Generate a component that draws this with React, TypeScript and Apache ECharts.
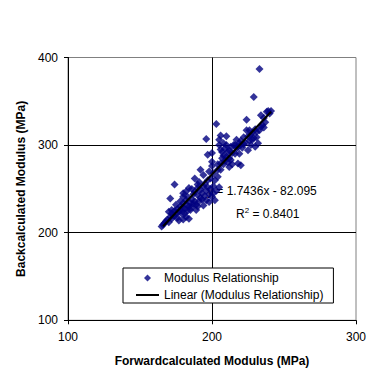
import React, { useEffect, useRef } from "react";
import * as echarts from "echarts";

const X_TICKS = [100, 200, 300];
const Y_TICKS = [100, 200, 300, 400];
const SERIES_NAME = "Modulus Relationship";
const TREND_NAME = "Linear (Modulus Relationship)";
const EQUATION = "y = 1.7436x - 82.095";
const R2_TEXT = "R";

// Forward-calculated (x) vs back-calculated (y) modulus, MPa
const POINTS: [number, number][] = [
  [165, 207], [166, 209], [167, 211], [168, 213], [169, 215], [170, 212], [171, 218], [172, 216],
  [172, 222], [173, 220], [174, 219], [174, 225], [175, 222], [176, 217], [176, 227], [177, 214],
  [177, 224], [178, 226], [178, 230], [179, 222], [180, 215], [180, 229], [180, 234], [181, 222],
  [181, 227], [182, 218], [182, 237], [183, 231], [183, 225], [184, 216], [184, 230], [185, 234],
  [185, 226], [171, 239], [172, 226], [170, 224], [175, 232], [178, 236], [174, 255], [180, 241],
  [180, 245], [183, 241], [184, 251], [182, 247],
  [186, 238], [186, 229], [187, 244], [188, 247], [188, 236], [189, 226], [189, 232], [190, 243],
  [190, 230], [190, 251], [191, 236], [191, 258], [192, 240], [192, 249], [192, 272], [193, 245],
  [193, 238], [194, 266], [194, 253], [195, 256], [195, 242], [196, 237], [196, 248], [197, 260],
  [197, 252], [198, 235], [198, 244], [199, 250], [199, 262], [188, 262], [190, 255], [194, 231],
  [186, 250], [187, 233],
  [200, 241], [200, 276], [200, 281], [200, 291], [201, 253], [201, 268], [202, 237], [202, 260],
  [203, 248], [203, 324], [204, 264], [204, 272], [205, 252], [205, 300], [205, 306], [206, 272],
  [206, 279], [206, 311], [207, 285], [207, 292], [208, 278], [208, 288], [209, 282], [209, 296],
  [210, 287], [210, 310], [210, 300], [211, 292], [211, 280], [212, 294], [212, 285], [213, 283],
  [213, 298], [214, 291], [214, 278], [215, 300], [196, 307], [197, 289], [198, 270], [201, 245],
  [204, 278], [206, 295], [208, 302], [212, 275],
  [216, 300], [216, 290], [217, 306], [217, 296], [218, 279], [218, 298], [219, 302], [219, 290],
  [220, 277], [220, 300], [220, 305], [221, 297], [222, 309], [222, 301], [223, 303], [224, 317],
  [224, 329], [225, 294], [225, 310], [226, 317], [226, 305], [227, 312], [228, 306], [228, 314],
  [229, 308], [229, 355], [230, 318], [231, 315], [231, 309], [232, 302], [233, 317], [233, 387],
  [234, 334], [234, 321], [235, 323], [236, 320], [236, 331], [237, 326], [238, 338], [239, 339],
  [240, 336], [241, 339], [230, 298], [227, 300],
];

// Trendline end points (as drawn by the fit over the data range)
const TREND: [number, number][] = [
  [166, 207.3],
  [241, 338.1],
];

const FONT = "'Liberation Sans', Arial, sans-serif";

export default function App() {
  const ref = useRef<HTMLDivElement>(null);
  useEffect(() => {
    if (!ref.current) return;
    const chart = echarts.init(ref.current, undefined, { renderer: "svg" });
    chart.setOption({
      animation: false,
      backgroundColor: "#ffffff",
      textStyle: { fontFamily: FONT },
      grid: {
        left: 68,
        right: 35,
        top: 57.5,
        bottom: 62.7,
        show: true,
        borderColor: "#808080",
        borderWidth: 1,
        backgroundColor: "transparent",
      },
      xAxis: {
        type: "value",
        min: X_TICKS[0],
        max: X_TICKS[X_TICKS.length - 1],
        interval: 100,
        name: "Forwardcalculated Modulus (MPa)",
        nameLocation: "middle",
        nameGap: 35,
        nameTextStyle: { fontFamily: FONT, fontSize: 12, fontWeight: "bold", color: "#000" },
        axisLine: { show: true, onZero: false, lineStyle: { color: "#000", width: 1 } },
        axisTick: { show: true, inside: false, length: 4, lineStyle: { color: "#000" } },
        axisLabel: { fontFamily: FONT, fontSize: 12, color: "#000", margin: 11 },
        splitLine: {
          show: true,
          showMinLine: false,
          showMaxLine: false,
          lineStyle: { color: "#000", width: 1 },
        },
      },
      yAxis: {
        type: "value",
        min: Y_TICKS[0],
        max: Y_TICKS[Y_TICKS.length - 1],
        interval: 100,
        name: "Backcalculated Modulus (MPa)",
        nameLocation: "middle",
        nameGap: 38,
        nameTextStyle: { fontFamily: FONT, fontSize: 12, fontWeight: "bold", color: "#000" },
        axisLine: { show: true, onZero: false, lineStyle: { color: "#000", width: 1 } },
        axisTick: { show: true, inside: false, length: 4, lineStyle: { color: "#000" } },
        axisLabel: { fontFamily: FONT, fontSize: 12, color: "#000", margin: 10 },
        splitLine: {
          show: true,
          showMinLine: false,
          showMaxLine: false,
          lineStyle: { color: "#000", width: 1 },
        },
      },
      legend: {
        left: 123,
        top: 268,
        orient: "vertical",
        padding: [4, 10, 2, 13],
        itemGap: 5,
        itemWidth: 23,
        itemHeight: 7,
        symbolKeepAspect: true,
        borderColor: "#000",
        borderWidth: 1,
        backgroundColor: "#fff",
        textStyle: { fontFamily: FONT, fontSize: 12, color: "#000" },
        data: [
          {
            name: SERIES_NAME,
            icon: "path://M0,-1L1,0L0,1L-1,0Z",
            itemStyle: { color: "#000080" },
          },
          {
            name: TREND_NAME,
            icon: "path://M0,0L23,0L23,2L0,2Z",
            itemStyle: { color: "#000", borderWidth: 0 },
          },
        ],
      },
      graphic: [
        {
          type: "text",
          left: 207,
          top: 185,
          z: 0,
          style: { text: EQUATION, font: `12px ${FONT}`, fill: "#000" },
        },
        {
          type: "text",
          left: 236,
          top: 206,
          z: 0,
          style: {
            text: "{a|" + R2_TEXT + "}{s|2}{a| = 0.8401}",
            font: `12px ${FONT}`,
            fill: "#000",
            rich: {
              a: { fontFamily: FONT, fontSize: 12, fill: "#000", verticalAlign: "bottom" },
              s: { fontFamily: FONT, fontSize: 8, fill: "#000", verticalAlign: "top", padding: [0, 0, 6, 0] },
            },
          },
        },
      ],
      series: [
        {
          name: SERIES_NAME,
          type: "scatter",
          symbol: "diamond",
          symbolSize: 8,
          itemStyle: { color: "#000080" },
          data: POINTS,
          z: 3,
        },
        {
          name: TREND_NAME,
          type: "line",
          symbol: "none",
          showSymbol: false,
          data: TREND,
          lineStyle: { color: "#000", width: 2 },
          itemStyle: { color: "#000" },
          z: 4,
        },
      ],
    });
    return () => chart.dispose();
  }, []);
  return (
    <div
      ref={ref}
      style={{ position: "fixed", left: 0, top: 0, width: 391, height: 383 }}
    />
  );
}
